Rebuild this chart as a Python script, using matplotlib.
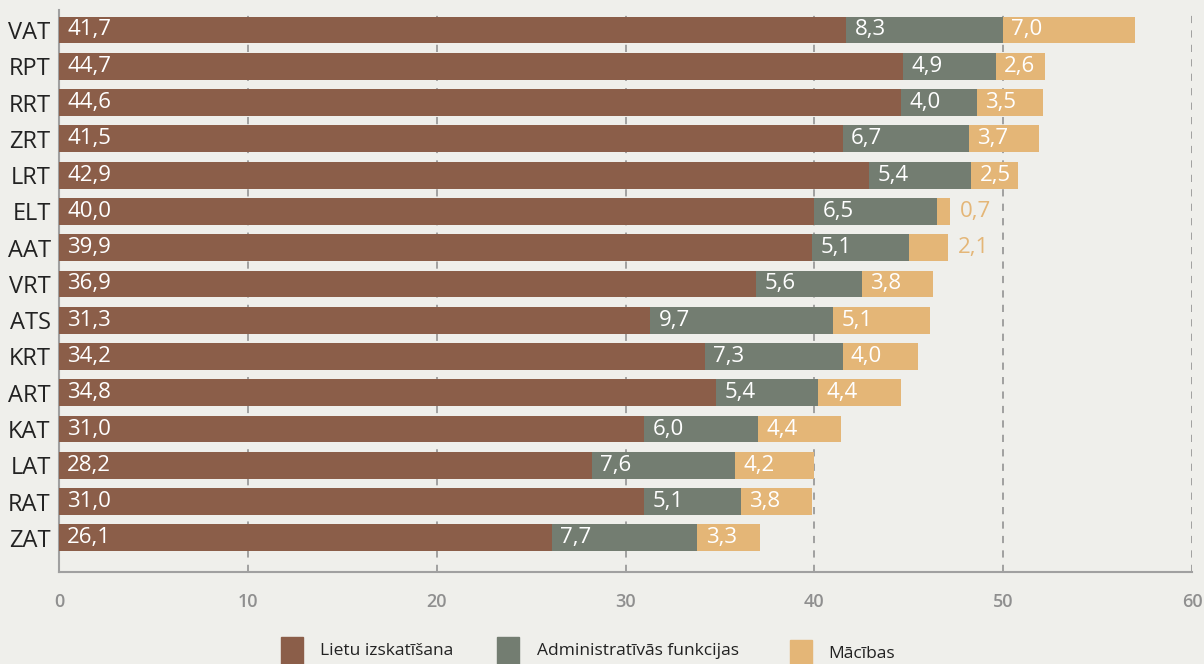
import matplotlib
matplotlib.use("Agg")
import matplotlib.pyplot as plt
from matplotlib.patches import Rectangle

categories = ["VAT", "RPT", "RRT", "ZRT", "LRT", "ELT", "AAT", "VRT", "ATS", "KRT", "ART", "KAT", "LAT", "RAT", "ZAT"]
lietu = [41.7, 44.7, 44.6, 41.5, 42.9, 40.0, 39.9, 36.9, 31.3, 34.2, 34.8, 31.0, 28.2, 31.0, 26.1]
admin = [8.3, 4.9, 4.0, 6.7, 5.4, 6.5, 5.1, 5.6, 9.7, 7.3, 5.4, 6.0, 7.6, 5.1, 7.7]
macibas = [7.0, 2.6, 3.5, 3.7, 2.5, 0.7, 2.1, 3.8, 5.1, 4.0, 4.4, 4.4, 4.2, 3.8, 3.3]
series_names = ["Lietu izskatīšana", "Administratīvās funkcijas", "Mācības"]
colors = ["#8B5E49", "#737D71", "#E4B677"]
xticks = [0, 10, 20, 30, 40, 50, 60]

plt.rcParams['font.family'] = ['Open Sans', 'DejaVu Sans']
bg = "#EFEFEB"
fig = plt.figure(figsize=(12.04, 6.64), dpi=100, facecolor=bg)
ax = fig.add_axes([59/1204, 1-572/664, (1192-59)/1204, (572-10)/664])
ax.set_facecolor(bg)

ypos = list(range(len(categories)))
series = [lietu, admin, macibas]
left = [0.0]*len(categories)
for vals, col in zip(series, colors):
    ax.barh(ypos, vals, left=left, height=0.74, color=col, zorder=3)
    for i, v in enumerate(vals):
        txt = f"{v:.1f}".replace(".", ",")
        if v < 2.3:
            ax.annotate(txt, xy=(left[i]+v, i), xytext=(7, 0), textcoords="offset points",
                        va="center", ha="left", color=colors[2], fontsize=16, fontweight="medium", zorder=4)
        else:
            ax.annotate(txt, xy=(left[i], i), xytext=(6, 0), textcoords="offset points",
                        va="center", ha="left", color="white", fontsize=16, fontweight="medium", zorder=4)
    left = [l+v for l, v in zip(left, vals)]

ax.set_xlim(0, 60)
ax.set_ylim(14.94, -0.55)
ax.set_yticks(ypos)
ax.set_yticklabels(categories, fontsize=17, color="#222222")
ax.set_xticks(xticks)
ax.set_xticklabels([str(t) for t in xticks], fontsize=13, color="#8f8f8f", fontweight="semibold")
ax.tick_params(axis="y", length=0, pad=6)
ax.tick_params(axis="x", length=0, pad=15)
ax.grid(axis="x", color="#9a9a9a", linestyle=(0, (4, 4)), linewidth=1.3, zorder=0)
ax.grid(axis="y", visible=False)
for s in ["top", "right"]:
    ax.spines[s].set_visible(False)
for s in ["left", "bottom"]:
    ax.spines[s].set_color("#a0a0a0")
    ax.spines[s].set_linewidth(1.5)

# legend (manual placement)
W, H = 1204, 664
items = [(281, 637, 320), (497, 637, 537), (790, 640, 828)]
for (px, py, tx), name, col in zip(items, series_names, colors):
    fig.add_artist(Rectangle((px/W, 1-(py+27)/H), 22/W, 27/H, transform=fig.transFigure,
                             color=col, clip_on=False))
    fig.text(tx/W, 1-(py+14)/H, name, fontsize=12.5, color="#222222", va="center", ha="left")

fig.savefig("out.png", dpi=100, facecolor=bg)
